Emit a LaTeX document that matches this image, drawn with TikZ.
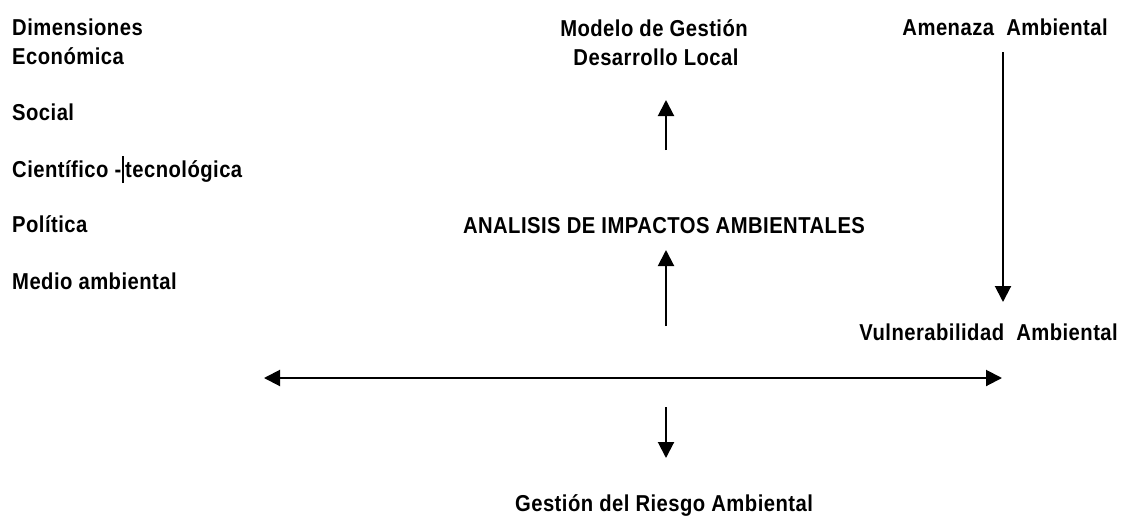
\documentclass[tikz,border=0pt]{standalone}
\usepackage{fontspec}
\setmainfont{Liberation Sans}[FakeStretch=0.88,LetterSpace=2]
\usetikzlibrary{arrows.meta}
\begin{document}
\begin{tikzpicture}[x=1pt,y=-1pt,
  lbl/.style={inner sep=0pt,font=\fontsize{23}{26}\selectfont\bfseries},
  arr/.style={line width=2pt,-{Triangle[length=16pt,width=16pt]}},
  darr/.style={line width=2pt,{Triangle[length=16pt,width=16pt]}-{Triangle[length=16pt,width=16pt]}}]
\useasboundingbox (0,0) rectangle (1125,520);
% left column
\node[lbl,anchor=base west] (dim) at (12,35) {Dimensiones};
\node[lbl,anchor=base west] (eco) at (12,64) {Económica};
\node[lbl,anchor=base west] (soc) at (12,120) {Social};
\node[lbl,anchor=base west] (cie) at (12,177) {Científico -\kern0.5pt\rule[-6pt]{1.8pt}{27pt}\kern1.5pt tecnológica};
\node[lbl,anchor=base west] (pol) at (12,232) {Política};
\node[lbl,anchor=base west] (med) at (12,289) {Medio ambiental};
% center
\node[lbl,anchor=base] (mod) at (654,36) {Modelo de Gestión};
\node[lbl,anchor=base] (des) at (656,65) {Desarrollo Local};
\node[lbl,anchor=base] (ana) at (664,233) {ANALISIS DE IMPACTOS AMBIENTALES};
\node[lbl,anchor=base] (ges) at (664,511) {Gestión del Riesgo Ambiental};
% right
\node[lbl,anchor=base east] (ame) at (1108,35) {Amenaza\ \ Ambiental};
\node[lbl,anchor=base east] (vul) at (1118,340) {Vulnerabilidad\ \ Ambiental};
% connector ends
\coordinate (u1s) at (666,150);
\coordinate (u1e) at (666,100);
\coordinate (u2s) at (666,326);
\coordinate (u2e) at (666,250);
\coordinate (ds) at (1003,52);
\coordinate (de) at (1003,302);
\coordinate (hl) at (264,378);
\coordinate (hr) at (1002,378);
\coordinate (gs) at (666,407);
\coordinate (ge) at (666,458);
\draw[arr] (u1s) -- (u1e);
\draw[arr] (u2s) -- (u2e);
\draw[arr] (ds) -- (de);
\draw[darr] (hl) -- (hr);
\draw[arr] (gs) -- (ge);
\end{tikzpicture}
\end{document}
